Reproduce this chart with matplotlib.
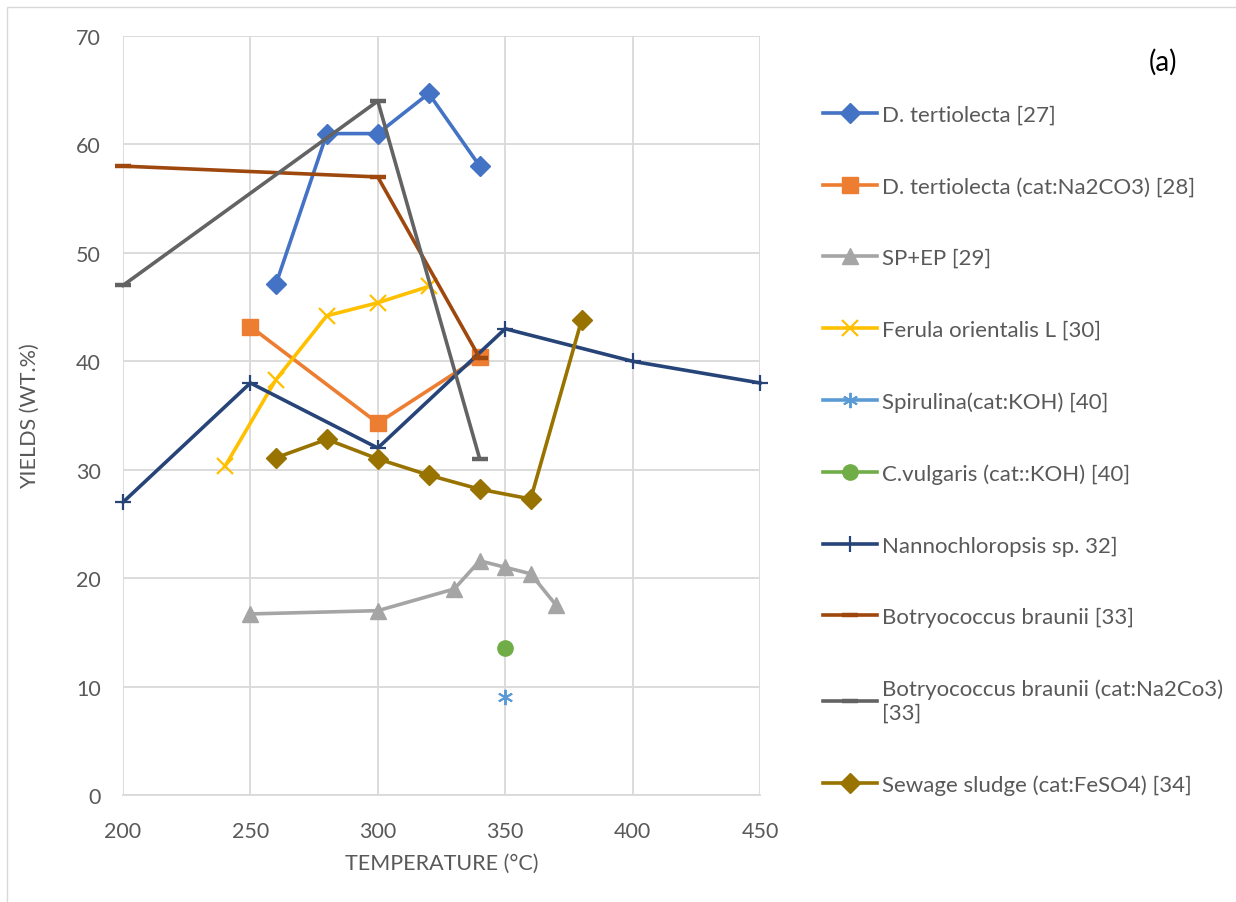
import matplotlib
matplotlib.use("Agg")
import matplotlib.pyplot as plt
from matplotlib.patches import Rectangle

plt.rcParams['font.family'] = ['Lato', 'DejaVu Sans']

# ---- data ----
dt27_x = [260, 280, 300, 320, 340]
dt27_y = [47.1, 61.0, 61.0, 64.7, 58.0]

dt28_x = [250, 300, 340]
dt28_y = [43.2, 34.3, 40.4]

spep_x = [250, 300, 330, 340, 350, 360, 370]
spep_y = [16.7, 17.0, 19.0, 21.6, 21.0, 20.4, 17.5]

ferula_x = [240, 260, 280, 300, 320]
ferula_y = [30.3, 38.3, 44.2, 45.4, 46.9]

spir_x = [350]
spir_y = [9.0]

cvul_x = [350]
cvul_y = [13.6]

nanno_x = [200, 250, 300, 350, 400, 450]
nanno_y = [27.0, 38.0, 32.0, 43.0, 40.0, 38.0]

botry_x = [200, 300, 340]
botry_y = [58.0, 57.0, 40.3]

botryc_x = [200, 300, 340]
botryc_y = [47.0, 64.0, 31.0]

sewage_x = [260, 280, 300, 320, 340, 360, 380]
sewage_y = [31.1, 32.8, 31.0, 29.5, 28.2, 27.3, 43.8]

labels = [
    "D. tertiolecta [27]",
    "D. tertiolecta (cat:Na2CO3) [28]",
    "SP+EP [29]",
    "Ferula orientalis L [30]",
    "Spirulina(cat:KOH) [40]",
    "C.vulgaris (cat::KOH) [40]",
    "Nannochloropsis sp. 32]",
    "Botryococcus braunii [33]",
    "Botryococcus braunii (cat:Na2Co3)\n[33]",
    "Sewage sludge (cat:FeSO4) [34]",
]

x_ticks = [200, 250, 300, 350, 400, 450]
y_ticks = [0, 10, 20, 30, 40, 50, 60, 70]

TXT = '#595959'
GRID = '#d9d9d9'
FS = 15.5
LFS = 16

fig = plt.figure(figsize=(12.36, 9.03), dpi=100)
ax = fig.add_axes([123/1236, 1-796/903, (760-123)/1236, (796-37)/903])

lw = 2.6
series = [
    (dt27_x, dt27_y, dict(color='#4472c4', marker='D', ms=10)),
    (dt28_x, dt28_y, dict(color='#ed7d31', marker='s', ms=12)),
    (spep_x, spep_y, dict(color='#a5a5a5', marker='^', ms=11)),
    (ferula_x, ferula_y, dict(color='#ffc000', marker='x', ms=11, mew=1.6)),
    (spir_x, spir_y, dict(color='#5b9bd5', marker=(6, 2, 0), ms=11, mew=1.4)),
    (cvul_x, cvul_y, dict(color='#70ad47', marker='o', ms=11)),
    (nanno_x, nanno_y, dict(color='#264478', marker='+', ms=12, mew=1.6)),
    (botry_x, botry_y, dict(color='#9e480e', marker='_', ms=12, mew=3.2)),
    (botryc_x, botryc_y, dict(color='#636363', marker='_', ms=12, mew=3.2)),
    (sewage_x, sewage_y, dict(color='#997300', marker='D', ms=10)),
]

handles = []
for (xs, ys, st), lab in zip(series, labels):
    h, = ax.plot(xs, ys, lw=lw, label=lab, clip_on=False, zorder=3, **st)
    handles.append(h)

ax.set_xlim(200, 450)
ax.set_ylim(0, 70)
ax.set_xticks(x_ticks)
ax.set_yticks(y_ticks)
ax.grid(True, color=GRID, lw=1.3)
ax.set_axisbelow(True)
for s in ['top', 'right', 'left']:
    ax.spines[s].set_visible(False)
ax.spines['bottom'].set_color(GRID)
ax.spines['bottom'].set_linewidth(1.3)
ax.tick_params(length=0, labelsize=FS, colors=TXT)
ax.tick_params(axis='x', pad=19)
ax.tick_params(axis='y', pad=16)
ax.set_xlabel("TEMPERATURE (°C)", fontsize=FS, color=TXT, labelpad=8)
ax.set_ylabel("YIELDS (WT.%)", fontsize=FS, color=TXT, labelpad=26)

leg = fig.legend(handles=handles, labels=labels, loc='upper left',
                 bbox_to_anchor=(814/1236, 1-97/903), frameon=False,
                 fontsize=LFS, labelcolor=TXT, handlelength=2.45,
                 handletextpad=0.2, labelspacing=2.32, borderaxespad=0)

fig.text(1163/1236, 1-62/903, "(a)", fontsize=20, color='black', ha='center', va='center')

# chart border
fig.patches.append(Rectangle((7/1236, -0.1), 1.2, 1 - 8/903 + 0.1, transform=fig.transFigure,
                             fill=False, edgecolor='#d9d9d9', lw=1))

fig.savefig("out.png", dpi=100)
